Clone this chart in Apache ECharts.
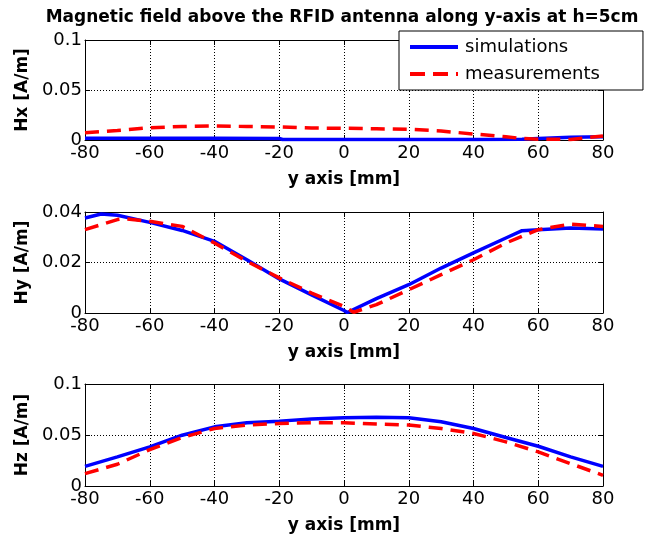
<!DOCTYPE html>
<html>
<head>
<meta charset="utf-8">
<script src="https://cdn.jsdelivr.net/npm/echarts@6/dist/echarts.min.js"></script>
<style>html,body{margin:0;padding:0;background:#fff}#c{width:650px;height:540px}</style>
</head>
<body>
<div id="c"></div>
<script>
const titleText = 'Magnetic field above the RFID antenna along y-axis at h=5cm';
const xTicks = [-80, -60, -40, -20, 0, 20, 40, 60, 80];

const hxSimY = [-80, -60, -40, -20, -19, 0, 20, 40, 55, 60, 70, 80];
const hxSim  = [0.0017, 0.0017, 0.0017, 0.0016, 0.0005, 0.0005, 0.0005, 0.0005, 0.0007, 0.0015, 0.0028, 0.0033];
const hxMeasY = [-80, -70, -60, -50, -40, -30, -20, -10, 0, 10, 20, 30, 40, 50, 55, 60, 70, 80];
const hxMeas  = [0.0073, 0.0095, 0.0123, 0.0135, 0.014, 0.0135, 0.013, 0.012, 0.0117, 0.0112, 0.0107, 0.009, 0.006, 0.0033, 0.0015, 0.0007, 0.0006, 0.004];

const hySimY = [-80, -75, -70, -60, -50, -40, -30, -20, -10, 0, 1, 10, 20, 30, 40, 50, 55, 60, 70, 80];
const hySim  = [0.0376, 0.0392, 0.0387, 0.0359, 0.0327, 0.0284, 0.0211, 0.0135, 0.0072, 0.001, 0.0002, 0.0057, 0.0112, 0.0178, 0.0238, 0.0297, 0.0326, 0.033, 0.0337, 0.0333];
const hyMeasY = [-80, -70, -68, -60, -50, -40, -30, -20, -10, 0, 3, 10, 20, 30, 40, 50, 55, 60, 70, 80];
const hyMeas  = [0.033, 0.037, 0.0374, 0.0363, 0.0343, 0.0277, 0.0205, 0.0139, 0.0079, 0.0026, 0.0003, 0.0033, 0.0092, 0.0152, 0.0211, 0.0277, 0.0304, 0.033, 0.0352, 0.0343];

const hzY = [-80, -70, -60, -50, -40, -30, -20, -10, 0, 10, 20, 30, 40, 50, 60, 70, 80];
const hzSim  = [0.0193, 0.0285, 0.0384, 0.0498, 0.058, 0.062, 0.0636, 0.0656, 0.0669, 0.0675, 0.0669, 0.063, 0.0564, 0.0475, 0.039, 0.0285, 0.0193];
const hzMeas = [0.0121, 0.0213, 0.0357, 0.0475, 0.0564, 0.0597, 0.0613, 0.062, 0.062, 0.0607, 0.0597, 0.0564, 0.0515, 0.0433, 0.0334, 0.0219, 0.0105];

const panels = [
  {name: 'Hx [A/m]', max: 0.1, interval: 0.05, top: 40, height: 100, sx: hxSimY, s: hxSim, mx: hxMeasY, m: hxMeas},
  {name: 'Hy [A/m]', max: 0.04, interval: 0.02, top: 212, height: 101, sx: hySimY, s: hySim, mx: hyMeasY, m: hyMeas},
  {name: 'Hz [A/m]', max: 0.1, interval: 0.05, top: 384, height: 102, sx: hzY, s: hzSim, mx: hzY, m: hzMeas}
];

const FONT = 'DejaVu Sans, sans-serif';
const pair = (xs, ys) => xs.map((x, i) => [x, ys[i]]);
const tick = {show: true, inside: true, length: 5, lineStyle: {color: '#000', width: 1}};
const line = {show: true, onZero: false, lineStyle: {color: '#000', width: 1}};
const grid = [], xAxis = [], yAxis = [], series = [];
panels.forEach((p, i) => {
  grid.push({left: 85, right: 47, top: p.top, height: p.height, show: false});
  xAxis.push({
    type: 'value', gridIndex: i, min: -80, max: 80, interval: 20, position: 'bottom',
    name: 'y axis [mm]', nameLocation: 'middle', nameGap: 31,
    nameTextStyle: {fontFamily: FONT, fontSize: 17, fontWeight: 'bold', color: '#000'},
    axisLine: line, axisTick: tick,
    axisLabel: {fontFamily: FONT, fontSize: 18, color: '#000', margin: 4},
    splitLine: {show: true, lineStyle: {color: '#000', type: [1, 2], width: 1}}
  });
  xAxis.push({
    type: 'value', gridIndex: i, min: -80, max: 80, interval: 20, position: 'top',
    axisLine: line, axisTick: tick, axisLabel: {show: false}, splitLine: {show: false}
  });
  yAxis.push({
    type: 'value', gridIndex: i, min: 0, max: p.max, interval: p.interval, position: 'left',
    name: p.name, nameLocation: 'middle', nameGap: 53, nameRotate: 90,
    nameTextStyle: {fontFamily: FONT, fontSize: 17, fontWeight: 'bold', color: '#000'},
    axisLine: line, axisTick: tick,
    axisLabel: {fontFamily: FONT, fontSize: 18, color: '#000', margin: 3},
    splitLine: {show: true, lineStyle: {color: '#000', type: [1, 2], width: 1}}
  });
  yAxis.push({
    type: 'value', gridIndex: i, min: 0, max: p.max, interval: p.interval, position: 'right',
    axisLine: line, axisTick: tick, axisLabel: {show: false}, splitLine: {show: false}
  });
  series.push({
    name: 'simulations', type: 'line', xAxisIndex: 2 * i, yAxisIndex: 2 * i,
    data: pair(p.sx, p.s), showSymbol: false, symbol: 'none', silent: true,
    lineStyle: {color: '#0000ff', width: 3.5}, itemStyle: {color: '#0000ff'}, z: 3
  });
  series.push({
    name: 'measurements', type: 'line', xAxisIndex: 2 * i, yAxisIndex: 2 * i,
    data: pair(p.mx, p.m), showSymbol: false, symbol: 'none', silent: true,
    lineStyle: {color: '#ff0000', width: 3.5, type: [14, 8]}, itemStyle: {color: '#ff0000'}, z: 4
  });
});

const chart = echarts.init(document.getElementById('c'), null, {renderer: 'canvas'});
chart.setOption({
  backgroundColor: '#fff',
  animation: false,
  title: {
    text: titleText, left: 337, top: 4, textAlign: 'center',
    textStyle: {fontFamily: FONT, fontSize: 17, fontWeight: 'bold', color: '#000'}
  },
  legend: {
    data: [
      {name: 'simulations', icon: 'path://M0,0h48v4h-48z', itemStyle: {color: '#0000ff'}},
      {name: 'measurements', icon: 'path://M0,0h15v4h-15z M23,0h15v4h-15z M46,0h2v4h-2z', itemStyle: {color: '#ff0000'}}
    ],
    orient: 'vertical', left: 399, top: 31,
    padding: [7, 43, 7, 11], itemGap: 9,
    itemWidth: 48, itemHeight: 4,
    backgroundColor: '#fff', borderColor: '#000', borderWidth: 1,
    textStyle: {fontFamily: FONT, fontSize: 18, color: '#000', padding: [0, 0, 0, 2]},
    selectedMode: false, z: 10
  },
  grid, xAxis, yAxis, series
});
</script>
</body>
</html>
